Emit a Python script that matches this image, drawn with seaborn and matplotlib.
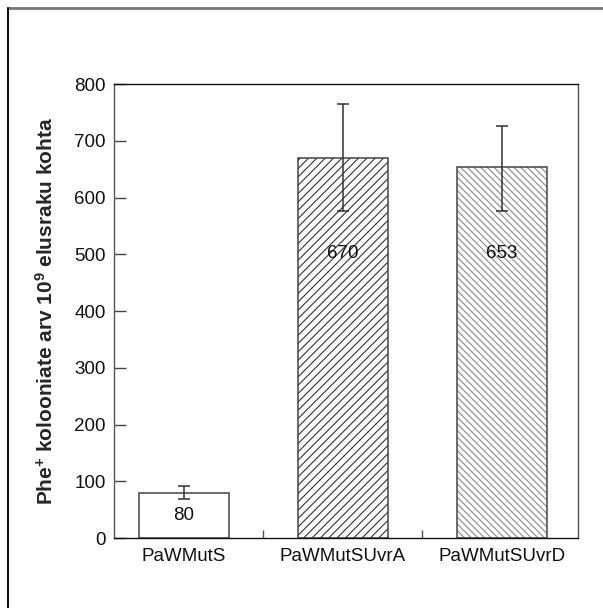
import matplotlib
matplotlib.use("Agg")
import matplotlib.pyplot as plt
from matplotlib.lines import Line2D
import seaborn as sns
import pandas as pd

# Strains, mean Phe+ colony counts and their error margins
strains = ["PaWMutS", "PaWMutSUvrA", "PaWMutSUvrD"]
counts = [80, 670, 653]
err_low = [12, 94, 76]
err_high = [11, 94, 73]
y_ticks = [0, 100, 200, 300, 400, 500, 600, 700, 800]

df = pd.DataFrame({"strain": strains, "count": counts})

sns.set_theme(style="white")
plt.rcParams["font.family"] = ["Liberation Sans", "DejaVu Sans"]
plt.rcParams["hatch.linewidth"] = 0.8
plt.rcParams["mathtext.fontset"] = "custom"
plt.rcParams["mathtext.rm"] = "Liberation Sans:bold"
plt.rcParams["mathtext.bf"] = "Liberation Sans:bold"
plt.rcParams["mathtext.it"] = "Liberation Sans:bold"
plt.rcParams["mathtext.default"] = "bf"

fig = plt.figure(figsize=(6.03, 6.08), dpi=100)
ax = fig.add_axes([0.189, 0.1151, 0.7695, 0.7467])

# hatched fills (edge colour doubles as hatch colour)
sns.barplot(data=df, x="strain", y="count", ax=ax, width=0.566,
            color="white", edgecolor="#444444", linewidth=0,
            errorbar=None)
hatches = ["", "////", "\\\\\\\\\\"]
hatch_cols = ["#444444", "#333333", "#8a8a8a"]
for patch, h, hc in zip(ax.patches, hatches, hatch_cols):
    patch.set_hatch(h)
    patch.set_facecolor("white")
    patch.set_edgecolor(hc)

# bar outlines on top
sns.barplot(data=df, x="strain", y="count", ax=ax, width=0.566,
            fill=False, color="#444444", linewidth=1.1, errorbar=None)

xs = list(range(len(strains)))
ax.errorbar(xs, counts, yerr=[err_low, err_high], fmt="none",
            ecolor="#333333", elinewidth=1.1, capsize=4.2, capthick=1.1,
            zorder=5)

label_y = [40, 502, 502]
for x, v, ly in zip(xs, counts, label_y):
    ax.text(x, ly, str(v), ha="center", va="center", fontsize=13.5,
            color="#111111", zorder=6)

ax.set_xlim(-0.44, 2.478)
ax.set_ylim(0, 800)
ax.set_yticks(y_ticks)
ax.set_yticklabels([str(t) for t in y_ticks], fontsize=13.5)
ax.set_xticks(xs)
ax.set_xticklabels(strains, fontsize=13.5)
ax.set_xticks([0.5, 1.5], minor=True)
ax.tick_params(axis="x", which="major", length=0, pad=7, colors="#111111")
ax.tick_params(axis="x", which="minor", direction="in", length=6,
               width=1.0, color="#555555", bottom=True)
ax.tick_params(axis="y", which="major", direction="in", length=8.5,
               width=1.0, color="#444444", pad=6, labelcolor="#111111",
               left=True)
ax.set_xlabel("")
ax.set_ylabel("Phe$^{+}$ kolooniate arv 10$^{9}$ elusraku kohta",
              fontsize=15, fontweight="bold")
ax.yaxis.set_label_coords(-0.124, 0.5)

for side in ["left", "right", "top", "bottom"]:
    ax.spines[side].set_visible(True)
    ax.spines[side].set_linewidth(1.0)
ax.spines["left"].set_color("#555555")
ax.spines["right"].set_color("#555555")
ax.spines["top"].set_color("#111111")
ax.spines["bottom"].set_color("#111111")

# frame lines along the top and left edges of the figure
fig.add_artist(Line2D([0.0133, 1.0], [0.9868, 0.9868], color="#777777",
                      linewidth=2.0, transform=fig.transFigure))
fig.add_artist(Line2D([0.0133, 0.0133], [0.0, 0.9868], color="#111111",
                      linewidth=1.5, transform=fig.transFigure))

fig.savefig("out.png", dpi=100)
